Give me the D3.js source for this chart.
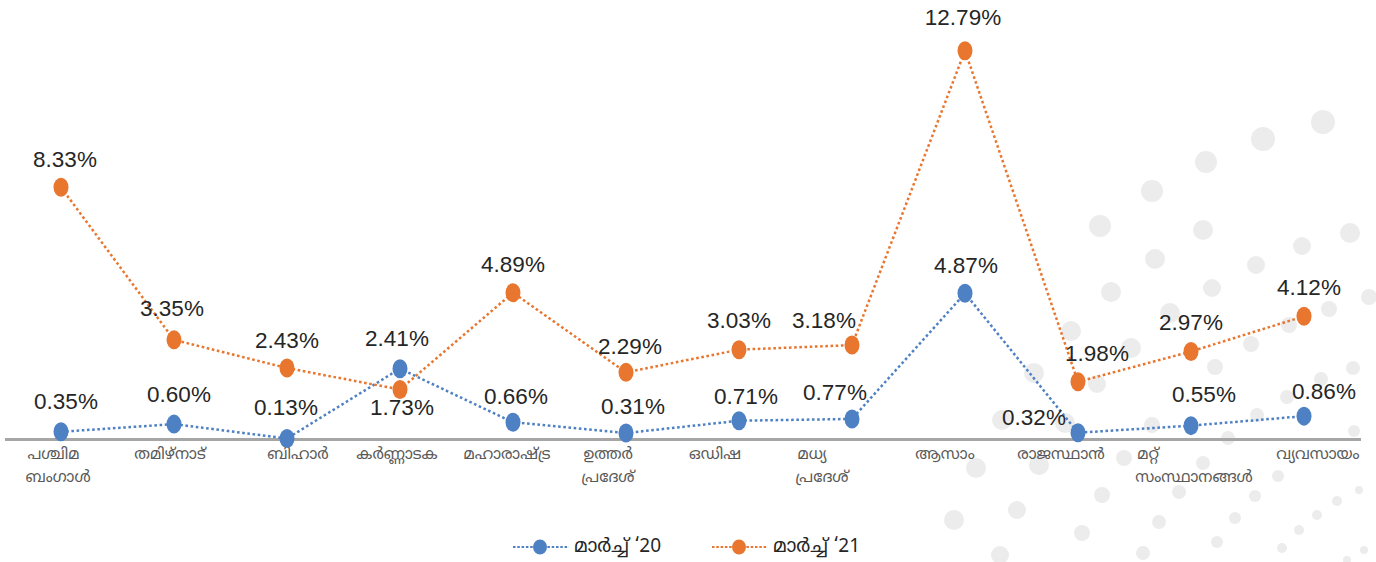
<!DOCTYPE html>
<html>
<head>
<meta charset="utf-8">
<script src="https://cdn.jsdelivr.net/npm/d3@7"></script>
<style>
  html, body { margin: 0; padding: 0; background: #ffffff; }
  svg { display: block; }
</style>
</head>
<body>
<div id="chart"></div>
<script>
// ---------------- DATA ----------------
const categories = [
  ["പശ്ചിമ", "ബംഗാൾ"],
  ["തമിഴ്നാട്"],
  ["ബിഹാർ"],
  ["കർണ്ണാടക"],
  ["മഹാരാഷ്ട്ര"],
  ["ഉത്തർ", "പ്രദേശ്"],
  ["ഒഡിഷ"],
  ["മധ്യ", "പ്രദേശ്"],
  ["ആസാം"],
  ["രാജസ്ഥാൻ"],
  ["മറ്റ്", "സംസ്ഥാനങ്ങൾ"],
  ["വ്യവസായം"]
];
const seriesNames = ["മാർച്ച് ‘20", "മാർച്ച് ‘21"];
const march20 = [0.35, 0.60, 0.13, 2.41, 0.66, 0.31, 0.71, 0.77, 4.87, 0.32, 0.55, 0.86];
const march21 = [8.33, 3.35, 2.43, 1.73, 4.89, 2.29, 3.03, 3.18, 12.79, 1.98, 2.97, 4.12];

// label nudges (dx, dy from point centre)
const labelOffsets20 = [[5,-30],[5,-30],[-1,-31],[-3,-30],[3,-26],[7,-27],[7,-24],[-17,-26],[1,-28],[-44,-15],[13,-31],[20,-25]];
const labelOffsets21 = [[4,-28],[-2,-31],[0,-28],[2,18],[0,-28],[4,-26],[0,-29],[-28,-25],[-2,-33],[19,-28],[0,-29],[5,-29]];
const tickOffsets = [-3,-4,11,-3,-6,-18,-24,-30,-20,-17,3,14];

// decorative background circles [x, y, r]
const bgDots = [
  [1323,122,12],[1263,139,12],[1206,162,11],[1152,191,11],[1100,226,11],
  [1350,233,10],[1203,230,10],[1302,246,9],[1155,259,10],[1256,265,9],
  [1111,292,10],[1212,288,9],[1369,297,8],[1329,309,8],[1289,325,8],
  [1170,313,10],[1071,331,10],[1131,348,10],[1251,344,8],[1215,367,8],
  [1353,368,7],[1034,373,10],[1097,384,9],[1321,379,7],[1287,397,7],
  [1002,420,10],[1065,423,10],[1152,425,8],[1257,415,7],[1228,438,7],
  [1354,431,6],[976,468,10],[1039,465,10],[1124,458,8],[1203,463,7],
  [1278,476,6],[1017,510,9],[1102,495,8],[1179,492,7],[1255,496,6],
  [1337,501,5],[1359,490,4],[954,520,10],[1082,533,8],[1159,522,7],
  [1235,518,6],[1317,515,5],[1000,555,9],[1143,553,7],[1217,542,6],
  [1299,530,5],[1282,548,5],[1364,550,4],[1347,560,4]
];

// ---------------- CHART ----------------
const W = 1376, H = 562;
const colors = ["#4E81C4", "#E8762F"];
const svg = d3.select("#chart").append("svg").attr("width", W).attr("height", H);

svg.append("g").selectAll("circle").data(bgDots).join("circle")
  .attr("cx", d => d[0]).attr("cy", d => d[1]).attr("r", d => d[2])
  .attr("fill", "#ECECEC");

const catKeys = categories.map((c, i) => i);
const x = d3.scaleBand().domain(catKeys).range([4.5, 1360.5]).paddingInner(0).paddingOuter(0);
const cx = i => x(i) + x.bandwidth() / 2;
const y = d3.scaleLinear().domain([0, 14]).range([442.5, 13.6]);

// axis
const axisG = svg.append("g").attr("transform", "translate(0,439)")
  .call(d3.axisBottom(x).tickSize(0).tickSizeOuter(0).tickFormat(""));
axisG.select(".domain").attr("stroke", "#A6A6A6").attr("stroke-width", 3);

const tickG = svg.append("g");
const tickFont = "'Noto Sans Malayalam', 'Noto Sans', sans-serif";
categories.forEach((lines, i) => {
  const tx = cx(i) + tickOffsets[i];
  const last = tickG.append("text")
    .attr("x", tx)
    .attr("y", 459 + (lines.length - 1) * 23)
    .attr("text-anchor", "middle")
    .attr("font-family", tickFont)
    .attr("font-size", 15.5)
    .attr("fill", "#595959")
    .text(lines[lines.length - 1]);
  if (lines.length > 1) {
    const bb = last.node().getBBox();
    tickG.append("text")
      .attr("x", bb.x + 2)
      .attr("y", 459)
      .attr("text-anchor", "start")
      .attr("font-family", tickFont)
      .attr("font-size", 15.5)
      .attr("fill", "#595959")
      .text(lines[0]);
  }
});

const series = [
  { name: seriesNames[0], values: march20, offsets: labelOffsets20, color: colors[0] },
  { name: seriesNames[1], values: march21, offsets: labelOffsets21, color: colors[1] }
];

const line = d3.line().x((d, i) => cx(i)).y(d => y(d));

series.forEach(s => {
  const g = svg.append("g");
  g.append("path").datum(s.values)
    .attr("d", line)
    .attr("fill", "none")
    .attr("stroke", s.color)
    .attr("stroke-width", 2.5)
    .attr("stroke-dasharray", "2.6 2.6");
  g.selectAll("ellipse").data(s.values).join("ellipse")
    .attr("cx", (d, i) => cx(i)).attr("cy", d => y(d))
    .attr("rx", 7.5).attr("ry", 9.5)
    .attr("fill", s.color);
  g.selectAll("text").data(s.values).join("text")
    .attr("x", (d, i) => cx(i) + s.offsets[i][0])
    .attr("y", (d, i) => y(d) + s.offsets[i][1])
    .attr("text-anchor", "middle")
    .attr("dominant-baseline", "central")
    .attr("font-family", "'Liberation Sans', Arial, sans-serif")
    .attr("font-size", 22.5)
    .attr("fill", "#262626")
    .text(d => d.toFixed(2) + "%");
});

// legend
const legendItems = [
  { name: seriesNames[0], color: colors[0], x0: 513 },
  { name: seriesNames[1], color: colors[1], x0: 712 }
];
const lg = svg.append("g");
legendItems.forEach(it => {
  lg.append("line").attr("x1", it.x0).attr("x2", it.x0 + 56).attr("y1", 547).attr("y2", 547)
    .attr("stroke", it.color).attr("stroke-width", 1.8).attr("stroke-dasharray", "2.5 1.8");
  lg.append("ellipse").attr("cx", it.x0 + 27).attr("cy", 547).attr("rx", 7).attr("ry", 7.5).attr("fill", it.color);
  lg.append("text").attr("x", it.x0 + 61).attr("y", 547)
    .attr("dominant-baseline", "central")
    .attr("font-family", "'Noto Sans Malayalam', 'Liberation Sans', sans-serif")
    .attr("font-size", 19)
    .attr("fill", "#262626")
    .text(it.name);
});
</script>
</body>
</html>
